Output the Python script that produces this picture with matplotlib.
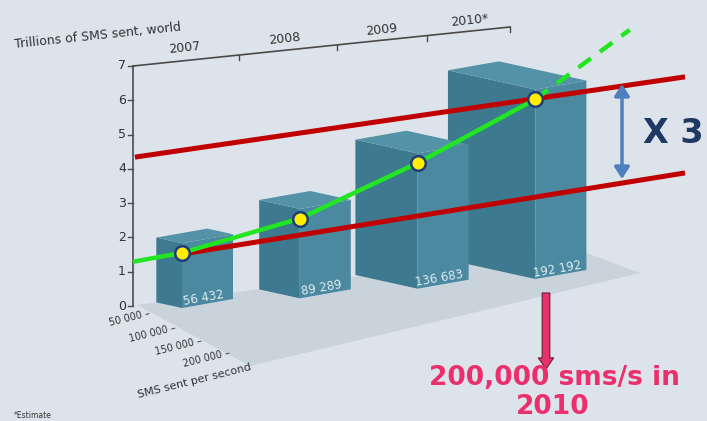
import matplotlib
matplotlib.use('Agg')
import matplotlib.pyplot as plt
from matplotlib.patches import Polygon, FancyArrowPatch
import numpy as np

# ---------------- data ----------------
years = [2007, 2008, 2009, 2010]
year_labels = ['2007', '2008', '2009', '2010*']
sms_trillions = [1.55, 2.55, 4.17, 6.03]          # green line points
sms_per_second = [56432, 89289, 136683, 192192]    # box depth
bar_labels = ['56 432', '89 289', '136 683', '192 192']
y_ticks = [0, 1, 2, 3, 4, 5, 6, 7]
depth_labels = ['50 000 \u2013', '100 000 \u2013', '150 000 \u2013', '200 000 \u2013']
trend_start_x, trend_start_y = 2006.584, 1.29
trend_proj_x, trend_proj_y = 2010.80, 8.05
upper_band_x, upper_band_y = [2006.60, 2011.27], [4.34, 6.68]
lower_band_x, lower_band_y = [2007.01, 2011.27], [1.52, 3.88]

# ---------------- layout helpers ----------------
PX_X = 117.8   # pixels per year
PX_Y = 34.3    # pixels per trillion
X_REF_PX, Y_REF_PX = 182.0, 306.0

def P(px, py):
    """pixel position -> data coordinates (for decorations)"""
    return (2007 + (px - X_REF_PX) / PX_X, (Y_REF_PX - py) / PX_Y)

W, H = 707, 421
fig = plt.figure(figsize=(W / 100, H / 100), dpi=100)
BG = '#dde3ea'
fig.patch.set_facecolor(BG)
ax = fig.add_axes([0, 0, 1, 1])
ax.set_facecolor(BG)
x0, _ = P(0, 0); x1, _ = P(W, 0)
_, y1 = P(0, 0); _, y0 = P(0, H)
ax.set_xlim(x0, x1)
ax.set_ylim(y0, y1)
ax.axis('off')

TXT = '#333333'

# floor
floor = [P(137, 305), P(573, 248), P(640, 273), P(250, 366)]
ax.add_patch(Polygon(floor, closed=True, fc='#c9d3dc', ec='none', zorder=1))

# y axis
ax_x = P(133, 0)[0]
ax.plot([ax_x, ax_x], [0, 7], color='#4a4a4a', lw=1.2, zorder=2)
for t in y_ticks:
    ax.plot([ax_x - 5 / PX_X, ax_x], [t, t], color='#4a4a4a', lw=1.0, zorder=2)
    ax.text(ax_x - 11 / PX_X, t, str(t), ha='center', va='center',
            fontsize=9, color=TXT, zorder=2)

# top slanted year axis
tA, tB = P(133, 66), P(510, 27)
ax.plot([tA[0], tB[0]], [tA[1], tB[1]], color='#4a4a4a', lw=1.2, zorder=2)
for tx in [239, 337, 427, 510]:
    f = (tx - 133) / (510 - 133)
    ty = 66 + f * (27 - 66)
    a, b = P(tx, ty), P(tx, ty + 5)
    ax.plot([a[0], b[0]], [a[1], b[1]], color='#4a4a4a', lw=1.0, zorder=2)
label_pos = [(185, 48), (285, 39), (382, 30), (470, 21)]
for lab, (lx, ly) in zip(year_labels, label_pos):
    xx, yy = P(lx, ly)
    ax.text(xx, yy, lab, ha='center', va='center', rotation=6,
            fontsize=9, color=TXT, zorder=2)
tx_, ty_ = P(98, 36)
ax.text(tx_, ty_, 'Trillions of SMS sent, world', ha='center', va='center',
        rotation=6, fontsize=9, color=TXT, zorder=2)

# depth axis labels
for lab, (lx, ly) in zip(depth_labels, [(130, 318), (153, 333), (179, 346), (207, 358)]):
    xx, yy = P(lx, ly)
    ax.text(xx, yy, lab, ha='center', va='center', rotation=14,
            fontsize=7, color=TXT, zorder=2)
xx, yy = P(194, 381)
ax.text(xx, yy, 'SMS sent per second', ha='center', va='center', rotation=14,
        fontsize=8, color=TXT, zorder=2)

# ---------------- 3D boxes ----------------
FB0 = P(182, 308)[1]      # front-bottom y at 2007
FB1 = P(536, 279)[1]      # front-bottom y at 2010
R = np.array([51 / PX_X, 9 / PX_Y])           # right face vector
DEPTH_PX = 0.000455                           # px per sms/s
TOP_GAP = 0.28
C_LEFT, C_RIGHT, C_TOP = '#3e7a8f', '#4a89a0', '#5492a8'

order = list(range(len(years)))[::-1]
for i in order:
    yr, v, s = years[i], sms_trillions[i], sms_per_second[i]
    fb = np.array([yr, FB0 + (yr - 2007) * (FB1 - FB0) / 3.0])
    ft = np.array([yr, v + TOP_GAP])
    d = s * DEPTH_PX
    L = np.array([-d / PX_X, 0.22 * d / PX_Y])
    z = 3 + (len(years) - i) * 0.1
    ax.add_patch(Polygon([fb, ft, ft + L, fb + L], fc=C_LEFT, ec='none', zorder=z))
    ax.add_patch(Polygon([fb, ft, ft + R, fb + R], fc=C_RIGHT, ec='none', zorder=z))
    ax.add_patch(Polygon([ft, ft + R, ft + R + L, ft + L], fc=C_TOP, ec='none', zorder=z))
    lab = fb + np.array([22 / PX_X, 10 / PX_Y])
    ax.text(lab[0], lab[1], bar_labels[i], ha='center', va='center', rotation=10,
            fontsize=8.5, color='#dfecf2', zorder=z + 0.05)

# ---------------- trend lines ----------------
RED = '#c00000'
ax.plot(upper_band_x, upper_band_y, color=RED, lw=3.6, solid_capstyle='butt', zorder=6)
ax.plot(lower_band_x, lower_band_y, color=RED, lw=3.6, solid_capstyle='butt', zorder=6)

GREEN = '#22e622'
ax.plot([trend_start_x] + years, [trend_start_y] + sms_trillions,
        color=GREEN, lw=3.2, solid_capstyle='butt', zorder=7)
ax.plot([years[-1], trend_proj_x], [sms_trillions[-1], trend_proj_y],
        color=GREEN, lw=3.2, ls=(0, (3.5, 2.5)), zorder=7)
ax.plot(years, sms_trillions, ls='none', marker='o', ms=10.5,
        mfc='#ffee00', mec='#1f3d78', mew=1.8, zorder=8)

# x3 double arrow
a1, a2 = P(622, 84), P(622, 179)
ax.add_patch(FancyArrowPatch(a1, a2, arrowstyle='<|-|>,head_length=7,head_width=4.5',
                             color='#4f7fbd', lw=2.5, mutation_scale=1,
                             shrinkA=0, shrinkB=0, zorder=6))
xx, yy = P(643, 133)
ax.text(xx, yy, 'X 3', ha='left', va='center', fontsize=24, fontweight='bold',
        color='#1f3864', zorder=6)

# pink arrow
p1, p2 = P(546, 293), P(546, 369)
ax.add_patch(FancyArrowPatch(p1, p2,
                             arrowstyle='simple,head_length=8,head_width=11,tail_width=5.5',
                             fc='#e8306a', ec='#6b1a35', lw=0.8, mutation_scale=1,
                             shrinkA=0, shrinkB=0, zorder=6))
PINK = '#ea2f6c'
xx, yy = P(554, 378)
ax.text(xx, yy, '200,000 sms/s in', ha='center', va='center', fontsize=19,
        fontweight='bold', color=PINK, zorder=9)
xx, yy = P(553, 407)
ax.text(xx, yy, '2010', ha='center', va='center', fontsize=19,
        fontweight='bold', color=PINK, zorder=9)

# footnote
xx, yy = P(14, 420)
ax.text(xx, yy, '*Estimate', ha='left', va='bottom', fontsize=5.5, color=TXT, zorder=2)

fig.savefig('out.png', dpi=100, facecolor=BG)
